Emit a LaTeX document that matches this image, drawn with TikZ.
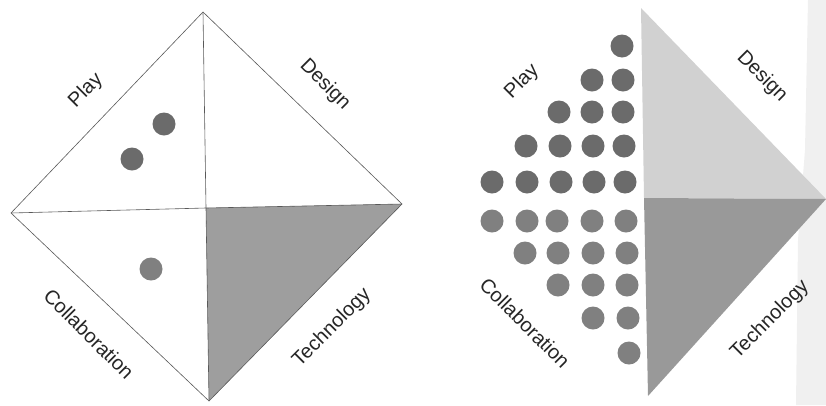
\documentclass[tikz,border=0pt]{standalone}
\usepackage{fontspec}
\setmainfont{Liberation Sans}
\begin{document}
\begin{tikzpicture}[x=1pt,y=-1pt,
  edge/.style={draw=black!65, line width=0.6pt},
  dotdark/.style={circle, fill=black!58, minimum size=23pt, inner sep=0pt},
  dotlight/.style={circle, fill=black!50, minimum size=23pt, inner sep=0pt},
  lbl/.style={font=\fontsize{20}{22}\selectfont, text=black!85, inner sep=0pt}]
\useasboundingbox (0,0) rectangle (826,405);
\fill[white] (0,0) rectangle (826,405);
% ---------- left diamond ----------
\coordinate (T) at (203,12);
\coordinate (L) at (11,213);
\coordinate (R) at (402,204);
\coordinate (B) at (209,401);
\coordinate (C) at (206,208);
\fill[black!38] (C) -- (R) -- (B) -- cycle;
\draw[edge] (T) -- (R) -- (B) -- (L) -- cycle;
\draw[edge] (T) -- (C) -- (B);
\draw[edge] (L) -- (C) -- (R);
\node[dotdark] (p1) at (164,124) {};
\node[dotdark] (p2) at (132,159) {};
\node[dotlight] (p3) at (151,269) {};
\node[lbl, rotate=45] (lplay) at (86,91) {Play};
\node[lbl, rotate=-45] (ldesign) at (325,85) {Design};
\node[lbl, rotate=-45] (lcollab) at (89,334) {Collaboration};
\node[lbl, rotate=45] (ltech) at (332,328) {Technology};
% ---------- right figure ----------
\fill[black!6] (808,0) -- (826,0) -- (826,405) -- (796,405) -- (798,240) -- (805,150) -- cycle;
\coordinate (RT) at (641,8);
\coordinate (RA) at (826,199);
\coordinate (RM) at (644,198);
\coordinate (RB) at (648,396);
\fill[black!18] (RT) -- (RA) -- (RM) -- cycle;
\fill[black!40] (RM) -- (RA) -- (RB) -- cycle;
% dots grid
\foreach \x/\y/\n in {622/46/a1, 592/80/a2, 623/80/a3, 559/112/a4, 592/112/a5, 623/112/a6,
  526/146/a7, 560/146/a8, 593/146/a9, 624/146/a10,
  492/182/a11, 527/182/a12, 561/182/a13, 594/182/a14, 625/182/a15}
  \node[dotdark] (\n) at (\x,\y) {};
\foreach \x/\y/\n in {492/221/b1, 527/221/b2, 557/221/b3, 592/221/b4, 626/221/b5,
  525/253/b6, 558/253/b7, 593/253/b8, 627/253/b9,
  558/285/b10, 593/285/b11, 627/285/b12,
  593/318/b13, 628/318/b14, 629/353/b15}
  \node[dotlight] (\n) at (\x,\y) {};
\node[lbl, rotate=45] (rplay) at (522,82) {Play};
\node[lbl, rotate=-45] (rdesign) at (762,77) {Design};
\node[lbl, rotate=-45] (rcollab) at (525,323) {Collaboration};
\node[lbl, rotate=45] (rtech) at (770,320) {Technology};
\end{tikzpicture}
\end{document}
